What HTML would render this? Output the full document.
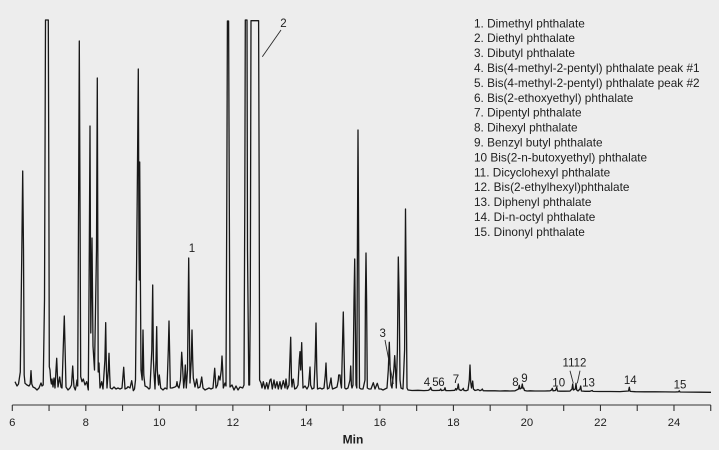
<!DOCTYPE html>
<html><head><meta charset="utf-8"><style>
html,body{margin:0;padding:0;background:#ededed;}
svg{display:block;}
text{font-family:"Liberation Sans",Arial,sans-serif;fill:#1e1e1e;}
</style></head><body>
<svg width="719" height="450" viewBox="0 0 719 450" xmlns="http://www.w3.org/2000/svg">
<rect width="719" height="450" fill="#ededed"/>
<polyline fill="none" stroke="#181818" stroke-width="1.3" stroke-linejoin="round" points="
15,381.7 17,386 18.5,384 20.3,372 21.7,260 22.7,171 23.5,250 24.2,375 25,383.3 27,385 29,386 30.2,384 31,370.7 31.8,384 33,387 35,388 37,390 39,388 41,383 42,386 43.2,385 44.5,300 45.5,20 48.3,20 48.9,200 49.3,366.7 50,370 50.7,380 51.4,384 52,379 53,387 54,378 55,388 56,370 56.7,358.3 57.4,375 58,387 59.7,377 61,387 62,388 63.5,340 64.3,316 65,345 66,387 68,390 70,388 71.5,385 72.7,366 73.5,380 74,386.7 75.3,390 76.3,385 77,380 77.7,386 78.6,200 79.3,41 80,200 80.7,376.7 82,381.7 83.3,379 85,385 86.7,381.7 88.3,390 89.3,250 90,126 90.8,333 92,238 93,346 94.5,370 96.5,250 97.3,78 98.2,372 99,363 100,388 101.7,381.7 103,389 104.9,360 105.7,322.7 106.4,370 107,388 108.3,370 109,353.3 109.7,375 110.3,388 112,389 114,387 116,389 118,388 120,389 122,388 123.7,367.3 125,389 127,388 128,386.7 130,388 131.7,380.7 133.3,390.7 134.5,389 135.5,380 137.2,200 138.3,69 139,250 139.3,280 139.7,162 140.4,280 141,370 142.2,380 143,330 143.8,375 145,386 147,387 149,389 150,388 151.8,350 152.7,285 153.4,360 154,373 155,389 156,360 156.7,326.7 157.3,370 158,379 158.6,385 159.3,375 160.7,388 163,390 165,388 167,389 168.3,350 169,321 169.7,355 170.3,388 172,388 175,387 176.3,386 177,381.7 177.7,386 179,388 180.5,380 181.7,352.3 182.3,361.7 183,375 183.7,388 184.5,380 185.3,365 186.3,388 187.5,370 188.7,258 189.5,340 190,383 191.3,360 192,330 192.7,360 193.3,378 195,387 196.7,379 198,388 200,387 201.7,377 203,388 205,390 207,389 209,388 211,389 213,388 214.7,368.3 216,388 217.5,385 218.7,376 220,380 221.3,370 222,356 222.7,370 223.3,388 225,383 226,386 226.8,200 227.4,21 228.6,21 229.3,200 230,387 232,385 234,390 236,386 238,390 240,387 242.7,388 244,385 244.8,200 245.3,20 247,20 247.5,250 248.8,385 249.6,385 250.3,300 251,20.7 258.6,20.7 259.2,200 259.6,380 261,383 262,388 263.3,381.7 265,389 266.7,382.7 268,389 270,380 271,379 272.3,389 274,380 275.3,388 277,381.7 278.3,389 280,381.7 281.3,389 283.3,380.7 285,388 286,379 287.3,389 289,385 290.7,337.3 291.5,380 292,387 292.7,380 293.3,379 294.7,389 296.5,388 298,385 299.3,360 300,351.7 300.7,370 301.7,342.7 302.4,370 303,388 305,386 307,389 308.5,386 309.4,375 310,367 310.6,385 312,389 314,388 315.2,360 316,323 316.8,370 317.5,389 320,388 322,389 324,388 325.3,375 326,363 326.7,380 327.5,389 329,388 330.3,382 331,378 331.7,385 332.5,389 335,388 337,387 338.3,380 338.7,375 340,375 340.5,382 341.5,388 342.6,340 343.3,312 344,350 344.8,388 346,389 348,388 350,380 350.7,366 351.4,385 352,388 353,385 354,300 354.7,259 355.3,320 356,385 356.8,388 357.4,250 358,130 358.7,250 359.5,388 361,389 363,389 365,380 365.4,300 366,253 366.6,300 367.3,388 369,389 371,389 373.3,382.7 375,389 377.3,383.3 379,389 381,389 383,390 385,389 387,388 388.3,370 389.3,342.3 390.2,370 391,385 392,388 393.8,370 394.7,355.7 395.5,370 396.3,388 397.4,350 398.3,257 399.2,300 400,380 401,388 403,389 404.6,350 405.5,209 406.3,300 407,388 408,390 412,390.5 418,390.3 424,390.6 428,390.4 429.8,389.5 430.7,387.5 431.6,390 433,390.5 436,390.5 439.8,390.3 440.7,389 441.5,390.6 444.2,390 445,387.7 445.8,390.6 450,390.6 454.8,390.3 455.7,388.5 456.5,390 457.6,388 458.3,384 459,389.5 461,390.5 462.5,389.5 463.3,388.3 464,390.5 466,390.7 468,390 469.3,380 470,365 470.7,382 471.5,388 472,385 472.7,381 473.4,389 475,390.5 477,390 478,389.5 480,390.7 481.5,390 482.3,389 483.2,390.7 488,390.8 495,390.8 500,391 505,390.8 510,391 515,390.8 518.5,389 519.3,385.3 520,389 521.5,388 522.3,384 523,388.5 523.7,388 524.5,390.5 527,391 530,390.8 535,391 540,391 545,391 550,390.8 551.5,390 552.3,388.3 553,390.8 555.5,390.5 556.7,387.3 557.5,391 560,391.2 565,391.2 570,391.1 572,389 572.7,384 573.4,390 575.3,389 576,383.3 576.7,390 578,391 580,389 580.7,386 581.4,391 585,391.3 590,391.3 592.3,390.5 593,391.4 600,391.5 610,391.5 620,391.6 628.5,391 629.3,387.3 630.1,391.4 635,391.7 645,391.8 655,391.8 665,391.9 675,392 678.5,391.8 679.3,390.8 680,392 690,392.1 700,392.2 711,392.3"/>

<g stroke="#2a2a2a" stroke-width="0.9" fill="none">
<line x1="281" y1="30" x2="262.3" y2="56.7"/>
<line x1="385" y1="340" x2="393.3" y2="384"/>
<line x1="570" y1="370.7" x2="573.3" y2="383.3"/>
<line x1="580" y1="370.7" x2="577.3" y2="383.3"/>
</g>

<g font-size="11.5" text-anchor="middle">
<text x="192" y="252">1</text>
<text x="283.5" y="27">2</text>
<text x="382.7" y="337">3</text>
<text x="427" y="386">4</text>
<text x="435.5" y="386">5</text>
<text x="441.5" y="386">6</text>
<text x="456" y="383">7</text>
<text x="515.5" y="386">8</text>
<text x="524.5" y="382">9</text>
<text x="558.7" y="386.5">10</text>
<text x="574.5" y="366.5">1112</text>
<text x="588.5" y="386.5">13</text>
<text x="630.3" y="384.2">14</text>
<text x="680" y="388.5">15</text>
</g>

<g font-size="11.8">
<text x="474" y="27.3">1. Dimethyl phthalate</text>
<text x="474" y="42.2">2. Diethyl phthalate</text>
<text x="474" y="57.1">3. Dibutyl phthalate</text>
<text x="474" y="72">4. Bis(4-methyl-2-pentyl) phthalate peak #1</text>
<text x="474" y="86.9">5. Bis(4-methyl-2-pentyl) phthalate peak #2</text>
<text x="474" y="101.8">6. Bis(2-ethoxyethyl) phthalate</text>
<text x="474" y="116.7">7. Dipentyl phthalate</text>
<text x="474" y="131.6">8. Dihexyl phthalate</text>
<text x="474" y="146.5">9. Benzyl butyl phthalate</text>
<text x="474" y="161.4">10 Bis(2-n-butoxyethyl) phthalate</text>
<text x="474" y="176.3">11. Dicyclohexyl phthalate</text>
<text x="474" y="191.2">12. Bis(2-ethylhexyl)phthalate</text>
<text x="474" y="206.1">13. Diphenyl phthalate</text>
<text x="474" y="221">14. Di-n-octyl phthalate</text>
<text x="474" y="235.9">15. Dinonyl phthalate</text>
</g>

<g stroke="#333" stroke-width="1.1">
<line x1="12.3" y1="405" x2="710.8" y2="405"/>
<line x1="12.3" y1="405" x2="12.3" y2="411"/>
<line x1="49.06" y1="405" x2="49.06" y2="411"/>
<line x1="85.82" y1="405" x2="85.82" y2="411"/>
<line x1="122.58" y1="405" x2="122.58" y2="411"/>
<line x1="159.34" y1="405" x2="159.34" y2="411"/>
<line x1="196.1" y1="405" x2="196.1" y2="411"/>
<line x1="232.86" y1="405" x2="232.86" y2="411"/>
<line x1="269.62" y1="405" x2="269.62" y2="411"/>
<line x1="306.38" y1="405" x2="306.38" y2="411"/>
<line x1="343.14" y1="405" x2="343.14" y2="411"/>
<line x1="379.9" y1="405" x2="379.9" y2="411"/>
<line x1="416.66" y1="405" x2="416.66" y2="411"/>
<line x1="453.42" y1="405" x2="453.42" y2="411"/>
<line x1="490.18" y1="405" x2="490.18" y2="411"/>
<line x1="526.94" y1="405" x2="526.94" y2="411"/>
<line x1="563.7" y1="405" x2="563.7" y2="411"/>
<line x1="600.46" y1="405" x2="600.46" y2="411"/>
<line x1="637.22" y1="405" x2="637.22" y2="411"/>
<line x1="673.98" y1="405" x2="673.98" y2="411"/>
<line x1="710.74" y1="405" x2="710.74" y2="411"/>
</g>
<g font-size="11.3" text-anchor="middle">
<text x="12.3" y="426">6</text>
<text x="85.82" y="426">8</text>
<text x="159.34" y="426">10</text>
<text x="232.86" y="426">12</text>
<text x="306.38" y="426">14</text>
<text x="379.9" y="426">16</text>
<text x="453.42" y="426">18</text>
<text x="526.94" y="426">20</text>
<text x="600.46" y="426">22</text>
<text x="673.98" y="426">24</text>
</g>
<text x="353" y="443.5" font-size="12" font-weight="bold" text-anchor="middle">Min</text>
</svg>
</body></html>
